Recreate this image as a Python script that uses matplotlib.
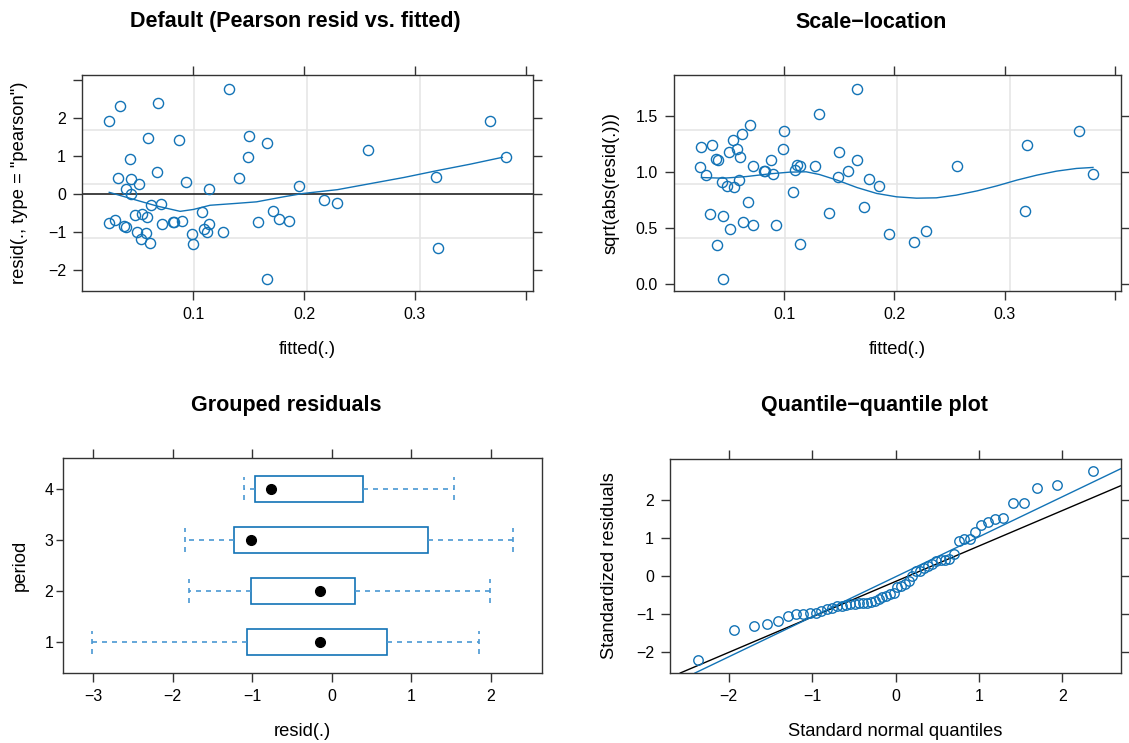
import matplotlib
matplotlib.use("Agg")
import matplotlib.pyplot as plt
import numpy as np
from statistics import NormalDist

plt.rcParams['font.family'] = ['Liberation Sans', 'DejaVu Sans']

# %%
# panel 1: Pearson residuals vs fitted
fitted_p = [0.024, 0.034, 0.068, 0.132, 0.368, 0.059, 0.087, 0.150, 0.166, 0.149,
            0.258, 0.382, 0.043, 0.067, 0.032, 0.044, 0.141, 0.319, 0.051, 0.093,
            0.039, 0.114, 0.195, 0.044, 0.062, 0.071, 0.218, 0.230, 0.108, 0.172,
            0.047, 0.054, 0.058, 0.177, 0.186, 0.024, 0.029, 0.037, 0.039, 0.072,
            0.082, 0.0825, 0.090, 0.114, 0.110, 0.112, 0.158, 0.049, 0.057, 0.053,
            0.061, 0.099, 0.100, 0.127, 0.321, 0.166]
pearson = [1.91, 2.31, 2.38, 2.75, 1.91, 1.48, 1.42, 1.51, 1.34, 0.97,
           1.14, 0.97, 0.92, 0.57, 0.41, 0.39, 0.41, 0.44, 0.25, 0.31,
           0.13, 0.13, 0.20, -0.01, -0.29, -0.27, -0.15, -0.23, -0.49, -0.45,
           -0.55, -0.54, -0.61, -0.66, -0.71, -0.77, -0.68, -0.85, -0.88, -0.79,
           -0.74, -0.73, -0.71, -0.80, -0.92, -1.00, -0.75, -0.99, -1.02, -1.18,
           -1.28, -1.05, -1.33, -0.99, -1.42, -2.23]
smooth1_x = [0.024, 0.049, 0.067, 0.088, 0.100, 0.115, 0.139, 0.157, 0.181, 0.199,
             0.230, 0.260, 0.290, 0.320, 0.350, 0.379]
smooth1_y = [0.04, -0.17, -0.32, -0.46, -0.41, -0.30, -0.25, -0.21, -0.08, 0.01,
             0.11, 0.27, 0.43, 0.61, 0.78, 0.96]
grid1_v = [0.1006, 0.2025, 0.3047]
grid1_h = [1.675, 0.254, -1.158]

# panel 2: scale-location
fitted_s = [0.025, 0.035, 0.024, 0.029, 0.038, 0.040, 0.050, 0.054, 0.057, 0.060,
            0.062, 0.069, 0.072, 0.082, 0.083, 0.088, 0.090, 0.100, 0.099, 0.110,
            0.112, 0.114, 0.108, 0.114, 0.128, 0.132, 0.141, 0.150, 0.149, 0.158,
            0.166, 0.166, 0.172, 0.177, 0.186, 0.195, 0.218, 0.229, 0.257, 0.320,
            0.318, 0.367, 0.380, 0.033, 0.045, 0.051, 0.039, 0.045, 0.044, 0.048,
            0.055, 0.059, 0.067, 0.063, 0.072, 0.093]
sqrt_abs = [1.217, 1.241, 1.045, 0.976, 1.115, 1.103, 1.173, 1.283, 1.199, 1.134,
            1.339, 1.417, 1.051, 1.009, 1.005, 1.101, 0.979, 1.363, 1.205, 1.015,
            1.057, 1.051, 0.821, 0.354, 1.051, 1.512, 0.631, 1.173, 0.952, 1.006,
            1.738, 1.104, 0.682, 0.938, 0.872, 0.446, 0.375, 0.476, 1.048, 1.238,
            0.655, 1.366, 0.982, 0.622, 0.604, 0.494, 0.351, 0.048, 0.908, 0.875,
            0.863, 0.929, 0.729, 0.554, 0.530, 0.530]
smooth2_x = [0.025, 0.045, 0.066, 0.087, 0.105, 0.120, 0.132, 0.148, 0.166, 0.184,
             0.202, 0.220, 0.238, 0.256, 0.275, 0.293, 0.311, 0.329, 0.347, 0.365, 0.380]
smooth2_y = [0.949, 0.943, 0.958, 0.982, 0.997, 1.000, 0.976, 0.926, 0.860, 0.807,
             0.777, 0.765, 0.768, 0.792, 0.830, 0.875, 0.926, 0.970, 1.006, 1.030, 1.039]
grid2_h = [1.372, 0.893, 0.411]

# panel 3: grouped residuals (five-number summaries per period)
periods = [1, 2, 3, 4]
whislo = [-3.01, -1.79, -1.85, -1.10]
q1 = [-1.07, -1.02, -1.23, -0.96]
med = [-0.14, -0.14, -1.02, -0.76]
q3 = [0.70, 0.29, 1.21, 0.39]
whishi = [1.86, 1.99, 2.28, 1.54]

# panel 4: reference lines (intercept, slope)
line_black = (-0.153, 0.934)
line_blue = (-0.03, 1.054)

blue = '#1273b6'
wblue = '#4a98d3'
frame = '#333333'
tick_fs = 11.5
lab_fs = 13.2
title_fs = 15.5

W, H = 1129, 743
fig = plt.figure(figsize=(W / 100, H / 100), dpi=100)


def box(l, t, r, b):
    return fig.add_axes([l / W, 1 - b / H, (r - l) / W, (b - t) / H])


def style(ax):
    for s in ax.spines.values():
        s.set_color(frame)
        s.set_linewidth(1.0)
    ax.tick_params(which='both', direction='out', length=6.5, width=1.0,
                   color=frame, labelsize=tick_fs, top=True, right=True,
                   labeltop=False, labelright=False, pad=5)


# %% panel 1
ax1 = box(82, 75, 533, 291)
for v in grid1_v:
    ax1.axvline(v, color='#e6e6e6', lw=1.2, zorder=0)
for h in grid1_h:
    ax1.axhline(h, color='#e6e6e6', lw=1.2, zorder=0)
ax1.axhline(0, color='#222222', lw=1.2, zorder=1)
ax1.plot(fitted_p, pearson, 'o', mfc='none', mec=blue, ms=7.3, mew=1.0, zorder=3)
ax1.plot(smooth1_x, smooth1_y, color=blue, lw=1.0, zorder=2)
ax1.set_xlim(-0.0006, 0.4066)
ax1.set_ylim(-2.553, 3.123)
ax1.set_xticks([0.1, 0.2, 0.3, 0.4], ['0.1', '0.2', '0.3', ''])
ax1.set_yticks([-2, -1, 0, 1, 2, 3], ['\u22122', '\u22121', '0', '1', '2', ''])
style(ax1)
ax1.set_xlabel('fitted(.)', fontsize=lab_fs, labelpad=14)
ax1.set_ylabel('resid(., type = "pearson")', fontsize=lab_fs, labelpad=14)

# %% panel 2
ax2 = box(674, 75, 1121, 291)
for v in grid1_v:
    ax2.axvline(v, color='#e6e6e6', lw=1.2, zorder=0)
for h in grid2_h:
    ax2.axhline(h, color='#e6e6e6', lw=1.2, zorder=0)
ax2.plot(fitted_s, sqrt_abs, 'o', mfc='none', mec=blue, ms=7.3, mew=1.0, zorder=3)
ax2.plot(smooth2_x, smooth2_y, color=blue, lw=1.0, zorder=2)
ax2.set_xlim(0.0002, 0.4054)
ax2.set_ylim(-0.0625, 1.863)
ax2.set_xticks([0.1, 0.2, 0.3, 0.4], ['0.1', '0.2', '0.3', ''])
ax2.set_yticks([0.0, 0.5, 1.0, 1.5], ['0.0', '0.5', '1.0', '1.5'])
style(ax2)
ax2.set_xlabel('fitted(.)', fontsize=lab_fs, labelpad=14)
ax2.set_ylabel('sqrt(abs(resid(.)))', fontsize=lab_fs, labelpad=12)

# %% panel 3
ax3 = box(63, 458, 542, 673)
stats = [dict(whislo=whislo[i], q1=q1[i], med=med[i], q3=q3[i], whishi=whishi[i],
              fliers=[]) for i in range(len(periods))]
ax3.bxp(stats, positions=periods, vert=False, widths=0.5, capwidths=0.46,
        patch_artist=True, showfliers=False,
        boxprops=dict(facecolor='white', edgecolor=blue, lw=1.2),
        whiskerprops=dict(color=wblue, ls=(0, (3, 3)), lw=1.2),
        capprops=dict(color=wblue, ls=(0, (3, 3)), lw=1.2),
        medianprops=dict(lw=0))
ax3.plot(med, periods, 'o', color='black', ms=7, zorder=4)
ax3.set_xlim(-3.38, 2.648)
ax3.set_ylim(0.4, 4.6)
ax3.set_xticks([-3, -2, -1, 0, 1, 2], ['\u22123', '\u22122', '\u22121', '0', '1', '2'])
ax3.set_yticks(periods, [str(p) for p in periods])
style(ax3)
ax3.tick_params(right=False)
ax3.tick_params(axis='y', length=5, pad=2)
ax3.set_xlabel('resid(.)', fontsize=lab_fs, labelpad=14)
ax3.set_ylabel('period', fontsize=lab_fs, labelpad=11)

# %% panel 4
ax4 = box(670, 459, 1121, 673)
n = len(pearson)
theo = [NormalDist().inv_cdf((i - 0.5) / n) for i in range(1, n + 1)]
ax4.plot(theo, sorted(pearson), 'o', mfc='none', mec=blue, ms=6.8, mew=1.0, zorder=3)
ax4.axline((0, line_black[0]), slope=line_black[1], color='black', lw=1.0, zorder=2)
ax4.axline((0, line_blue[0]), slope=line_blue[1], color=blue, lw=1.0, zorder=2)
ax4.set_xlim(-2.701, 2.701)
ax4.set_ylim(-2.561, 3.07)
ax4.set_xticks([-2, -1, 0, 1, 2], ['\u22122', '\u22121', '0', '1', '2'])
ax4.set_yticks([-2, -1, 0, 1, 2], ['\u22122', '\u22121', '0', '1', '2'])
style(ax4)
ax4.set_xlabel('Standard normal quantiles', fontsize=lab_fs, labelpad=14)
ax4.set_ylabel('Standardized residuals', fontsize=lab_fs, labelpad=13)

# %% titles
fig.text(295 / W, 1 - 22 / H, 'Default (Pearson resid vs. fitted)', ha='center',
         va='center', fontsize=title_fs, fontweight='bold')
fig.text(871 / W, 1 - 22 / H, 'Scale\u2212location', ha='center',
         va='center', fontsize=title_fs, fontweight='bold')
fig.text(286 / W, 1 - 405 / H, 'Grouped residuals', ha='center',
         va='center', fontsize=title_fs, fontweight='bold')
fig.text(874 / W, 1 - 405 / H, 'Quantile\u2212quantile plot', ha='center',
         va='center', fontsize=title_fs, fontweight='bold')

fig.savefig('out.png', dpi=100)
